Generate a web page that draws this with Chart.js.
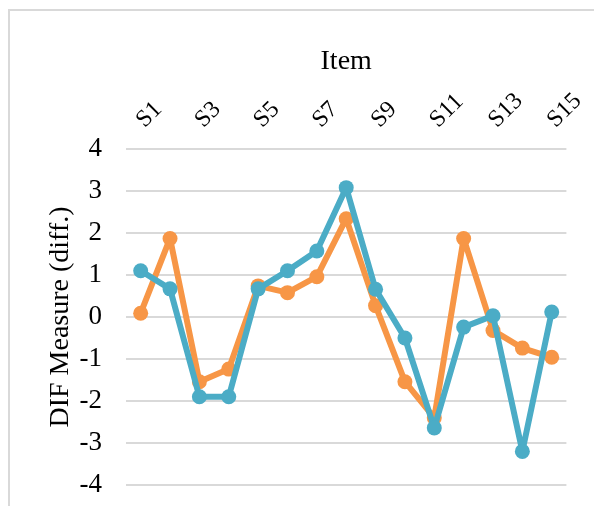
<!DOCTYPE html>
<html>
<head>
<meta charset="utf-8">
<script src="https://cdn.jsdelivr.net/npm/chart.js@4/dist/chart.umd.min.js"></script>
<style>
html,body{margin:0;padding:0;background:#fff;}
#wrap{position:absolute;left:0;top:0;width:594px;height:506px;}
#frame{position:absolute;left:8px;top:9px;width:600px;height:520px;border:2px solid #d9d9d9;box-sizing:border-box;}
canvas{position:absolute;left:0;top:0;}
</style>
</head>
<body>
<div id="wrap">
<div id="frame"></div>
<canvas id="c" width="594" height="506"></canvas>
</div>
<script>
const categories = ['S1','S2','S3','S4','S5','S6','S7','S8','S9','S10','S11','S12','S13','S14','S15'];
const orangeValues = [0.09, 1.87, -1.54, -1.24, 0.74, 0.58, 0.96, 2.34, 0.27, -1.54, -2.40, 1.87, -0.32, -0.74, -0.96];
const tealValues = [1.10, 0.67, -1.90, -1.90, 0.67, 1.10, 1.57, 3.08, 0.66, -0.50, -2.64, -0.24, 0.03, -3.20, 0.12];
const yTicks = [-4, -3, -2, -1, 0, 1, 2, 3, 4];

const ORANGE = '#F79646';
const TEAL = '#4BACC6';
const FONT = "'Liberation Serif', 'Times New Roman', serif";

const PAD_L = 44, PAD_T = 45, PAD_B = 21;

new Chart(document.getElementById('c'), {
  type: 'line',
  data: {
    labels: categories,
    datasets: [
      {
        label: 'Teal',
        data: tealValues,
        borderColor: TEAL,
        backgroundColor: TEAL,
        borderWidth: 6,
        borderJoinStyle: 'round',
        pointRadius: 7.5,
        pointHoverRadius: 7.5,
        pointBorderWidth: 0,
        tension: 0,
        order: 0
      },
      {
        label: 'Orange',
        data: orangeValues,
        borderColor: ORANGE,
        backgroundColor: ORANGE,
        borderWidth: 6,
        borderJoinStyle: 'round',
        pointRadius: 7.5,
        pointHoverRadius: 7.5,
        pointBorderWidth: 0,
        tension: 0,
        order: 1
      }
    ]
  },
  options: {
    responsive: false,
    animation: false,
    layout: { padding: { left: PAD_L, right: 26, top: PAD_T, bottom: PAD_B } },
    plugins: { legend: { display: false }, tooltip: { enabled: false } },
    scales: {
      x: {
        position: 'top',
        offset: true,
        grid: { display: false, drawTicks: false },
        border: { display: false },
        ticks: {
          color: '#000',
          font: { family: FONT, size: 24 },
          minRotation: 45,
          maxRotation: 45,
          autoSkip: false,
          padding: 15,
          labelOffset: 20,
          callback: function(v, i) { return i % 2 === 0 ? categories[i] : ''; }
        },
        title: {
          display: true,
          text: 'Item',
          color: '#000',
          font: { family: FONT, size: 28 },
          padding: { top: 0, bottom: 0 }
        },
        afterFit: function(s) { s.height = 149 - PAD_T; }
      },
      y: {
        min: -4,
        max: 4,
        afterBuildTicks: function(s) { s.ticks = yTicks.map(v => ({ value: v })); },
        grid: { color: '#d9d9d9', lineWidth: 2, drawTicks: false },
        border: { display: false },
        ticks: {
          color: '#000',
          font: { family: FONT, size: 27 },
          padding: 24
        },
        title: {
          display: true,
          text: 'DIF Measure (diff.)',
          color: '#000',
          font: { family: FONT, size: 28 },
          padding: { top: 0, bottom: 0 }
        },
        afterFit: function(s) {
          s.width = 126 - PAD_L;
          s.paddingTop = 0;
          s.paddingBottom = 0;
        }
      }
    }
  }
});
</script>
</body>
</html>
